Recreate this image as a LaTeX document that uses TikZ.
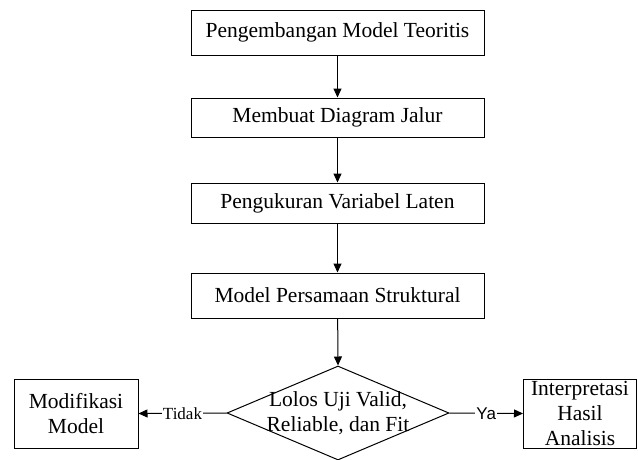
\documentclass[tikz,border=0pt]{standalone}
\usepackage{fontspec}
\setmainfont{Liberation Serif}
\newfontfamily\labsans{Liberation Sans}
\usetikzlibrary{shapes.geometric,arrows.meta}
\begin{document}
\begin{tikzpicture}[x=1pt,y=-1pt,
  box/.style={draw, line width=1pt, inner sep=0pt, align=center,
    font=\fontsize{21.5}{25}\selectfont},
  arr/.style={line width=1pt, -{Triangle[length=9pt,width=8pt]}},
  lab/.style={fill=white, inner sep=1pt, font=\fontsize{17}{20}\selectfont}]
\useasboundingbox (0,0) rectangle (638,459);
\clip (0,0) rectangle (638,459);
\node[box, minimum width=293pt, minimum height=45pt] (b1) at (337.5,32.5) {Pengembangan Model Teoritis};
\node[box, minimum width=293pt, minimum height=39pt] (b2) at (337.5,117.5) {Membuat Diagram Jalur};
\node[box, minimum width=293pt, minimum height=40pt] (b3) at (337.5,203) {Pengukuran Variabel Laten};
\node[box, minimum width=293pt, minimum height=45pt] (b4) at (337.5,295.5) {Model Persamaan Struktural};
\node[draw, diamond, line width=1pt, inner sep=0pt, minimum width=222pt, minimum height=94pt] (dec) at (338,413) {};
\node[align=center, inner sep=0pt, font=\fontsize{21.5}{25}\selectfont] (dect) at (dec.center) {Lolos Uji Valid,\\Reliable, dan Fit};
\node[box, minimum width=124pt, minimum height=69pt] (mod) at (76,413.5) {Modifikasi\\Model};
\node[box, minimum width=113pt, minimum height=69pt] (int) at (580,413.5) {Interpretasi\\Hasil\\Analisis};
\draw[arr] (b1) -- (b2);
\draw[arr] (b2) -- (b3);
\draw[arr] (b3) -- (b4);
\draw[arr] (b4) -- (dec.north);
\draw[arr] (dec.west) -- node[lab] {Tidak} (mod.east);
\draw[arr] (dec.east) -- node[lab, font=\labsans\fontsize{17}{20}\selectfont] {Ya} (int.west);
\end{tikzpicture}
\end{document}
